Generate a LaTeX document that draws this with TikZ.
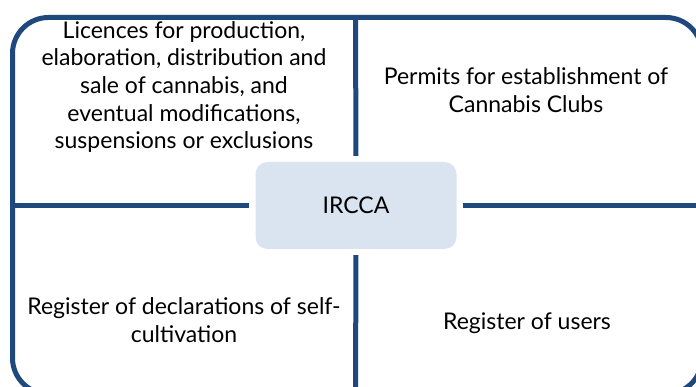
\documentclass[tikz,border=0pt]{standalone}
\usepackage{fontspec}
\setmainfont{Lato}
\definecolor{navy}{HTML}{1F497D}
\definecolor{paleblue}{HTML}{DAE3F0}
\tikzset{
  frame/.style={draw=navy, line width=5pt},
  quad/.style={align=center, font=\fontsize{23}{27.7}\selectfont},
  hub/.style={fill=paleblue, rounded corners=12pt, minimum width=201pt,
    minimum height=87pt, font=\fontsize{23}{25}\selectfont}
}
\begin{document}
\begin{tikzpicture}[x=1pt, y=-1pt]
      \useasboundingbox (0, 0) rectangle (696, 387);
      \clip (0, 0) rectangle (696, 387);

      \draw[frame, rounded corners=36pt] (12.5, 17.5) rectangle (702, 394);
      \coordinate (top) at (355.5, 17.5);
      \coordinate (bottom) at (355.5, 394);
      \coordinate (left) at (12.5, 205.5);
      \coordinate (right) at (702, 205.5);

      \node[hub] (ircca) at (356, 205.5) {IRCCA};
      \draw[frame, shorten >=6pt] (top) -- (ircca.north);
      \draw[frame, shorten >=6pt] (bottom) -- (ircca.south);
      \draw[frame, shorten >=6pt] (left) -- (ircca.west);
      \draw[frame, shorten >=6pt] (right) -- (ircca.east);

      \node[quad] (licences) at (184, 87) {Licences for production,\\ elaboration, distribution and\\ sale of cannabis, and\\ eventual modifications,\\ suspensions or exclusions};
      \node[quad] (permits) at (526, 90) {Permits for establishment of\\ Cannabis Clubs};
      \node[quad] (selfcult) at (184, 320) {Register of declarations of self-\\ cultivation};
      \node[quad] (users) at (527, 323) {Register of users};
    \end{tikzpicture}
\end{document}
